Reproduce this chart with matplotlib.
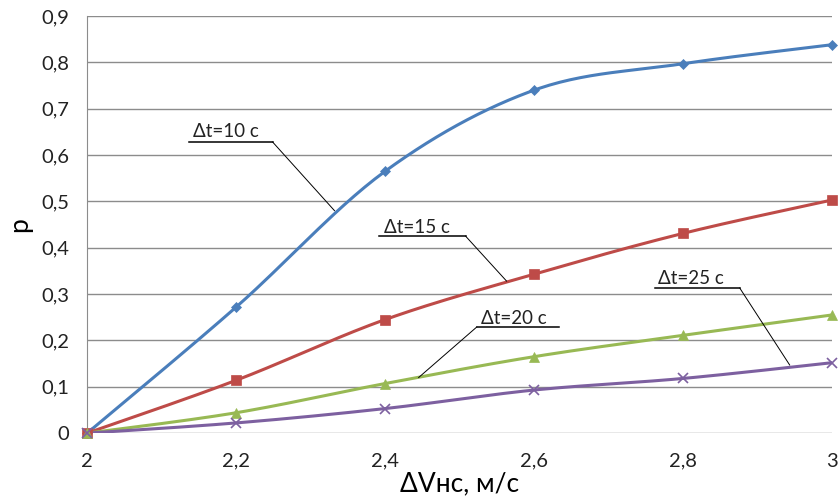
import numpy as np
import matplotlib
matplotlib.use("Agg")
import matplotlib.pyplot as plt

plt.rcParams['font.family'] = ['Lato', 'Open Sans', 'DejaVu Sans']

x = [2.0, 2.2, 2.4, 2.6, 2.8, 3.0]
p_10 = [0.0, 0.272, 0.565, 0.740, 0.797, 0.838]
p_15 = [0.0, 0.114, 0.245, 0.343, 0.431, 0.503]
p_20 = [0.0, 0.044, 0.107, 0.165, 0.211, 0.255]
p_25 = [0.0, 0.022, 0.053, 0.093, 0.118, 0.152]

labels = ['Δt=10 с', 'Δt=15 с', 'Δt=20 с', 'Δt=25 с']
colors = ['#4a7ebb', '#be4b48', '#98b954', '#7d60a0']
markers = ['D', 's', '^', 'x']
msizes = [5, 7, 7, 7]

xticks = [2, 2.2, 2.4, 2.6, 2.8, 3]
xticklabels = ['2', '2,2', '2,4', '2,6', '2,8', '3']
yticks = [0, 0.1, 0.2, 0.3, 0.4, 0.5, 0.6, 0.7, 0.8, 0.9]
yticklabels = ['0', '0,1', '0,2', '0,3', '0,4', '0,5', '0,6', '0,7', '0,8', '0,9']

# label placement: (text x, text y, underline x0, x1, underline y, leader end x, y)
label_pos = [
    (2.142, 0.650, 2.137, 2.249, 0.628, 2.332, 0.480),
    (2.398, 0.443, 2.392, 2.508, 0.425, 2.563, 0.328),
    (2.529, 0.248, 2.523, 2.633, 0.229, 2.445, 0.120),
    (2.766, 0.333, 2.762, 2.876, 0.313, 2.943, 0.147),
]


def smooth(xs, ys, n=30):
    # excel-like bezier smoothing, done in roughly screen-proportional units
    sx, sy = 1.0, 0.9 * 1.6
    P = np.column_stack([np.asarray(xs) / sx, np.asarray(ys) / sy])
    out = []
    for i in range(len(P) - 1):
        p0 = P[i - 1] if i > 0 else P[i]
        p1, p2 = P[i], P[i + 1]
        p3 = P[i + 2] if i + 2 < len(P) else P[i + 1]
        c1 = p1 + (p2 - p0) / 6
        c2 = p2 - (p3 - p1) / 6
        t = np.linspace(0, 1, n)[:, None]
        seg = (1 - t) ** 3 * p1 + 3 * (1 - t) ** 2 * t * c1 + 3 * (1 - t) * t ** 2 * c2 + t ** 3 * p2
        out.append(seg if i == 0 else seg[1:])
    pts = np.vstack(out)
    return pts[:, 0] * sx, pts[:, 1] * sy


fig = plt.figure(figsize=(8.38, 4.99), dpi=100)
ax = fig.add_axes([0.104, 0.132, 0.889, 0.836])

for ys, c, m, ms in zip([p_10, p_15, p_20, p_25], colors, markers, msizes):
    sxs, sys_ = smooth(x, ys)
    ax.plot(sxs, sys_, color=c, lw=2.2, zorder=3, solid_capstyle='round')
    ax.plot(x, ys, ls='none', marker=m, color=c, markersize=ms,
            markeredgewidth=1.2 if m == 'x' else 0.5, zorder=4, clip_on=False)

for lab, (tx, ty, u0, u1, uy, lx, ly) in zip(labels, label_pos):
    ax.text(tx, ty, lab, fontsize=13.5, ha='left', va='center', color='#222222', zorder=5)
    ax.plot([u0, u1], [uy, uy], color='black', lw=1.1, zorder=5)
    ax.plot([u1 if lx > u1 else u0, lx], [uy, ly], color='black', lw=0.7, zorder=5)

ax.set_xlim(2, 3)
ax.set_ylim(0, 0.9)
ax.set_xticks(xticks)
ax.set_xticklabels(xticklabels)
ax.set_yticks(yticks)
ax.set_yticklabels(yticklabels)
ax.tick_params(length=0, labelsize=14.5, colors='#222222')
ax.tick_params(axis='y', pad=13)
ax.tick_params(axis='x', pad=14)
ax.grid(axis='y', color='#8c8c8c', lw=1)
ax.set_axisbelow(True)
for s in ['top', 'right', 'bottom']:
    ax.spines[s].set_visible(False)
ax.spines['left'].set_color('#8c8c8c')

ax.set_ylabel('р', fontsize=19)
ax.yaxis.set_label_coords(-0.074, 0.5)
ax.set_xlabel('ΔVнс, м/с', fontsize=19, labelpad=1)

fig.savefig('out.png', dpi=100)
